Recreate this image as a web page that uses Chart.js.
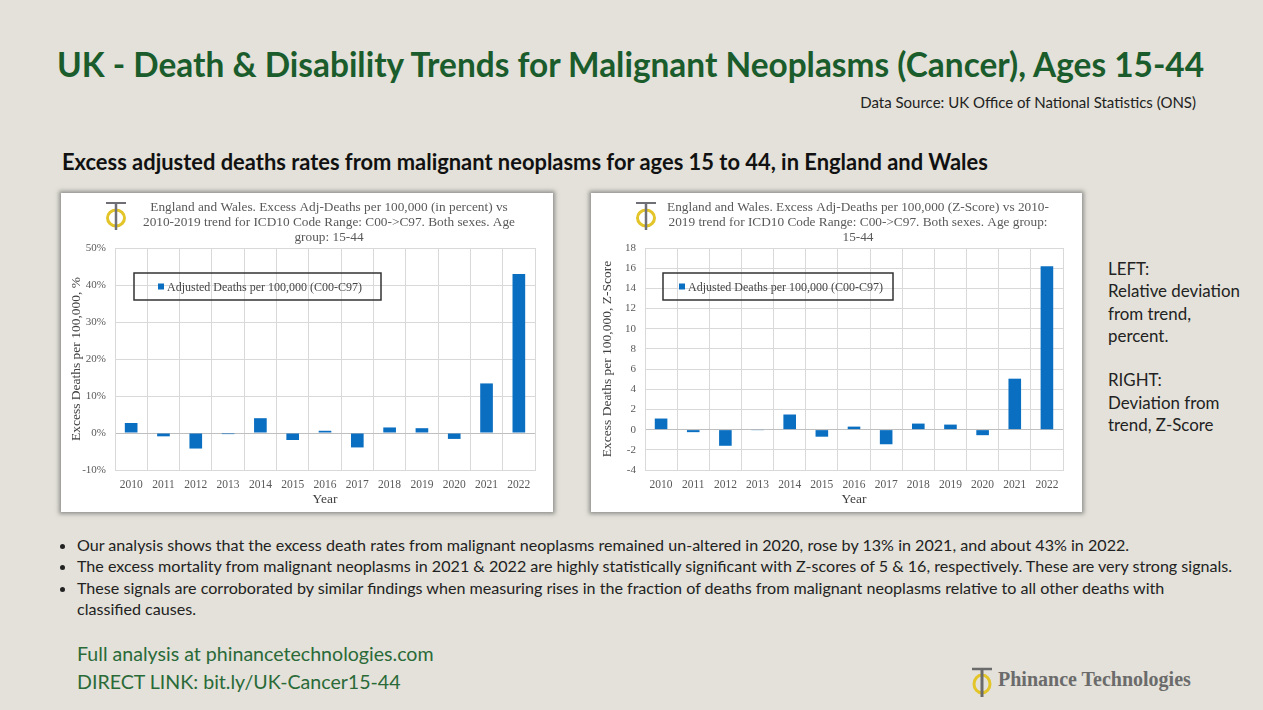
<!DOCTYPE html>
<html>
<head>
<meta charset="utf-8">
<script src="https://cdn.jsdelivr.net/npm/chart.js@4.4.0/dist/chart.umd.min.js"></script>
<style>
  html, body { margin: 0; padding: 0; }
  body { width: 1263px; height: 710px; background: #e3e1d9; position: relative; overflow: hidden; font-family: Lato, sans-serif; }
  .abs { position: absolute; white-space: nowrap; }
  #title { left: 57px; top: 44px; font-size: 33.4px; font-weight: 700; color: #1a5c2b; }
  #source { right: 67px; top: 93px; font-size: 15px; color: #222; }
  #sub { left: 62px; top: 148px; font-size: 21.9px; font-weight: 700; color: #111; }
  .box { position: absolute; top: 193px; height: 319px; background: #fff; box-shadow: 0 0 4px 2px rgba(80,80,80,0.55); }
  #boxL { left: 61px; width: 492px; }
  #boxR { left: 591px; width: 491px; }
  #side { left: 1108px; top: 258px; font-size: 16.9px; line-height: 22.3px; color: #222; }
  #bullets { left: 62px; top: 534px; font-size: 16.1px; line-height: 21.4px; color: #222; }
  #bullets ul { margin: 0; padding-left: 15px; }
  #links { left: 77px; top: 640px; font-size: 19.6px; line-height: 28px; color: #2a6a38; }
  #brand { left: 998px; top: 668px; font-family: "Liberation Serif", serif; font-weight: 700; font-size: 20px; color: #6b6b6b; }
  #brandLogo { left: 968px; top: 665px; }
</style>
</head>
<body>
<div class="abs" id="title">UK - Death &amp; Disability Trends for Malignant Neoplasms (Cancer), Ages 15-44</div>
<div class="abs" id="source">Data Source: UK Office of National Statistics (ONS)</div>
<div class="abs" id="sub">Excess adjusted deaths rates from malignant neoplasms for ages 15 to 44, in England and Wales</div>

<div class="box" id="boxL"><canvas id="chartL" width="492" height="319"></canvas></div>
<div class="box" id="boxR"><canvas id="chartR" width="491" height="319"></canvas></div>

<div class="abs" id="side">LEFT:<br>Relative deviation<br>from trend,<br>percent.<br><br>RIGHT:<br>Deviation from<br>trend, Z-Score</div>

<div class="abs" id="bullets"><ul>
<li>Our analysis shows that the excess death rates from malignant neoplasms remained un-altered in 2020, rose by 13% in 2021, and about 43% in 2022.</li>
<li>The excess mortality from malignant neoplasms in 2021 &amp; 2022 are highly statistically significant with Z-scores of 5 &amp; 16, respectively. These are very strong signals.</li>
<li>These signals are corroborated by similar findings when measuring rises in the fraction of deaths from malignant neoplasms relative to all other deaths with<br>classified causes.</li>
</ul></div>

<div class="abs" id="links">Full analysis at phinancetechnologies.com<br>DIRECT LINK: bit.ly/UK-Cancer15-44</div>

<svg class="abs" id="brandLogo" width="28" height="34" viewBox="0 0 28 34">
  <ellipse cx="14" cy="19" rx="8" ry="9" fill="none" stroke="#e3c52a" stroke-width="3"/>
  <line x1="4" y1="4" x2="24" y2="4" stroke="#6b6b6b" stroke-width="2.5"/>
  <line x1="14" y1="4" x2="14" y2="32" stroke="#6b6b6b" stroke-width="3"/>
</svg>
<div class="abs" id="brand">Phinance Technologies</div>

<script>
const years = ['2010', '2011', '2012', '2013', '2014', '2015', '2016', '2017', '2018', '2019', '2020', '2021', '2022'];
const seriesLabel = 'Adjusted Deaths per 100,000 (C00-C97)';

// left: relative deviation from 2010-2019 trend, percent
const excessPercent = [2.7, -0.9, -4.2, -0.3, 4.0, -1.9, 0.6, -3.9, 1.5, 1.3, -1.6, 13.4, 43.0];
// right: deviation from trend, z-score
const excessZScore = [1.1, -0.25, -1.6, -0.03, 1.5, -0.7, 0.3, -1.45, 0.6, 0.5, -0.55, 5.05, 16.2];

const titleLeft = [
  'England and Wales. Excess Adj-Deaths per 100,000 (in percent) vs',
  '2010-2019 trend for ICD10 Code Range: C00->C97. Both sexes. Age',
  'group: 15-44'
];
const titleRight = [
  'England and Wales. Excess Adj-Deaths per 100,000 (Z-Score) vs 2010-',
  '2019 trend for ICD10 Code Range: C00->C97. Both sexes. Age group:',
  '15-44'
];

const serif = '"Liberation Serif", "Times New Roman", serif';
const barBlue = '#0b6fc1';

// title, little logo and boxed legend drawn on top of the plot
const decorPlugin = {
  id: 'decor',
  afterDraw(chart, args, opts) {
    const ctx = chart.ctx;
    const area = chart.chartArea;
    ctx.save();
    // chart title centred over the plot area
    ctx.fillStyle = '#595959';
    ctx.font = '13.3px ' + serif;
    ctx.textAlign = 'center';
    ctx.textBaseline = 'middle';
    const cx = (area.left + area.right) / 2 + 4;
    opts.lines.forEach((l, i) => ctx.fillText(l, cx, 15 + i * 15));
    // logo
    const lx = area.left + 1;
    ctx.strokeStyle = '#e3c52a';
    ctx.lineWidth = 3;
    ctx.beginPath();
    ctx.ellipse(lx, 25, 8.5, 8, 0, 0, Math.PI * 2);
    ctx.stroke();
    ctx.strokeStyle = '#6f6f78';
    ctx.lineWidth = 2;
    ctx.beginPath();
    ctx.moveTo(lx - 10, 10); ctx.lineTo(lx + 10, 10);
    ctx.stroke();
    ctx.lineWidth = 2.5;
    ctx.beginPath();
    ctx.moveTo(lx, 10); ctx.lineTo(lx, 37);
    ctx.stroke();
    // legend box
    const lg = opts.legend;
    ctx.strokeStyle = '#333';
    ctx.lineWidth = 1.5;
    ctx.strokeRect(lg.x, lg.y, lg.w, lg.h);
    ctx.fillStyle = chart.data.datasets[0].backgroundColor;
    ctx.fillRect(lg.x + lg.off, lg.y + lg.h / 2 - 3, 6, 6);
    ctx.fillStyle = '#444';
    ctx.font = '12px ' + serif;
    ctx.textAlign = 'left';
    ctx.fillText(chart.data.datasets[0].label, lg.x + lg.off + 9, lg.y + lg.h / 2 + 1);
    ctx.restore();
  }
};

function makeChart(id, values, yMin, yMax, step, fmt, yTitle, lines, padRight, legend, yTitlePad) {
  const ctx = document.getElementById(id).getContext('2d');
  return new Chart(ctx, {
    type: 'bar',
    data: {
      labels: years,
      datasets: [{
        label: seriesLabel,
        data: values,
        backgroundColor: barBlue,
        borderWidth: 0,
        categoryPercentage: 0.8,
        barPercentage: 0.49
      }]
    },
    options: {
      responsive: false,
      animation: false,
      layout: { padding: { top: 55, right: padRight, bottom: 0, left: 0 } },
      plugins: {
        legend: { display: false },
        tooltip: { enabled: false },
        decor: { lines: lines, legend: legend }
      },
      scales: {
        x: {
          grid: { color: '#d9d9d9', drawTicks: false },
          border: { color: '#d9d9d9' },
          ticks: { color: '#595959', font: { family: serif, size: 11.5 }, padding: 8, maxRotation: 0 },
          title: { display: true, text: 'Year', color: '#404040', font: { family: serif, size: 13.5 }, padding: { top: 0, bottom: 4 } },
          afterFit(scale) { scale.height = 42; }
        },
        y: {
          min: yMin,
          max: yMax,
          grid: {
            color: c => (c.tick && c.tick.value === 0 ? '#bfbfbf' : '#d9d9d9'),
            drawTicks: false
          },
          border: { color: '#d9d9d9' },
          ticks: { stepSize: step, color: '#595959', font: { family: serif, size: 11 }, padding: 9, callback: fmt },
          title: { display: true, text: yTitle, color: '#404040', font: { family: serif, size: 13.5 }, padding: { top: yTitlePad, bottom: 0 } },
          afterFit(scale) { scale.width = 54; }
        }
      }
    },
    plugins: [decorPlugin]
  });
}

makeChart('chartL', excessPercent, -10, 50, 10, v => v + '%',
  'Excess Deaths per 100,000, %', titleLeft, 18,
  { x: 73, y: 80, w: 247, h: 27, off: 24 }, 7);

makeChart('chartR', excessZScore, -4, 18, 2, v => v,
  'Excess Deaths per 100,000, Z-Score', titleRight, 19,
  { x: 72, y: 80, w: 230, h: 27, off: 16 }, 8);
</script>
</body>
</html>
